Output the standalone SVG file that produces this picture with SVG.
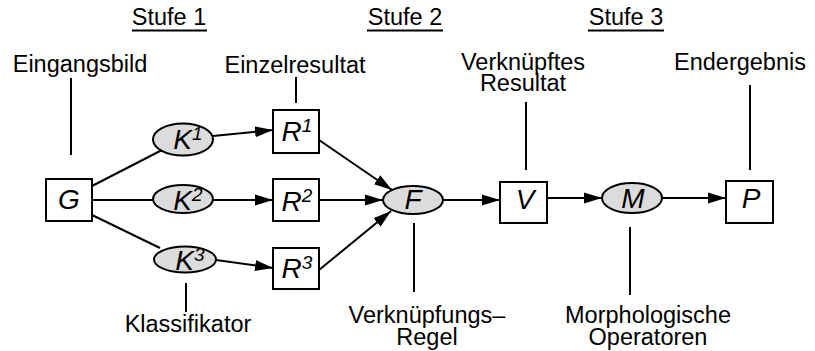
<svg xmlns="http://www.w3.org/2000/svg" width="815" height="351" viewBox="0 0 815 351">
<style>
text{font-family:"Liberation Sans",Arial,Helvetica,sans-serif;fill:#000}
.lbl{font-size:23.5px;text-anchor:middle}
.hd{font-size:23.5px;text-anchor:middle}
.nt{font-size:28px;font-style:italic;text-anchor:middle}
.sup{font-size:19px}
.box{fill:#fff;stroke:#000;stroke-width:2}
.ell{fill:#dcdcdc;stroke:#000;stroke-width:2}
.ln{stroke:#000;stroke-width:2;fill:none}
.ar{stroke:#000;stroke-width:2;fill:none;marker-end:url(#ah)}
</style>
<defs>
<marker id="ah" viewBox="0 0 18 12" refX="18" refY="6" markerWidth="18" markerHeight="12" markerUnits="userSpaceOnUse" orient="auto">
<path d="M0,0.5 L18,6 L0,11.5 z" fill="#000"/>
</marker>
</defs>
<rect width="815" height="351" fill="#fff"/>
<g id="headers">
<text class="hd" x="169" y="25">Stufe 1</text>
<line class="ln" x1="132" y1="30.5" x2="207" y2="30.5"/>
<text class="hd" x="405" y="25">Stufe 2</text>
<line class="ln" x1="367" y1="30.5" x2="443" y2="30.5"/>
<text class="hd" x="626" y="25">Stufe 3</text>
<line class="ln" x1="588" y1="30.5" x2="664" y2="30.5"/>
</g>
<g id="connectors">
<line class="ln" x1="92" y1="186" x2="162" y2="150"/>
<line class="ln" x1="92" y1="200" x2="153" y2="200"/>
<line class="ln" x1="92" y1="215" x2="160" y2="248"/>
<line class="ar" x1="213" y1="136" x2="273" y2="130"/>
<line class="ar" x1="213" y1="200" x2="273" y2="200"/>
<line class="ar" x1="216" y1="260" x2="273" y2="268"/>
<line class="ar" x1="319" y1="140" x2="392" y2="190"/>
<line class="ar" x1="319" y1="200" x2="383" y2="200"/>
<line class="ar" x1="319" y1="270" x2="391" y2="211"/>
<line class="ar" x1="443" y1="200" x2="500" y2="200"/>
<line class="ar" x1="547" y1="198" x2="602" y2="198"/>
<line class="ar" x1="663" y1="198" x2="726" y2="198"/>
<line class="ln" x1="71" y1="78" x2="71" y2="155"/>
<line class="ln" x1="296" y1="77" x2="296" y2="103"/>
<line class="ln" x1="526" y1="102" x2="526" y2="170"/>
<line class="ln" x1="750" y1="85" x2="750" y2="170"/>
<line class="ln" x1="186" y1="283" x2="186" y2="312"/>
<line class="ln" x1="414" y1="223" x2="414" y2="292"/>
<line class="ln" x1="630" y1="227" x2="630" y2="295"/>
</g>
<g id="G"><rect class="box" x="46" y="179" width="46" height="42"/><text class="nt" x="69" y="209">G</text></g>
<g id="K1"><ellipse class="ell" cx="183" cy="139.5" rx="30" ry="16"/><text class="nt" x="188" y="149">K<tspan class="sup" dy="-9">1</tspan></text></g>
<g id="K2"><ellipse class="ell" cx="183" cy="199" rx="30" ry="14"/><text class="nt" x="188" y="210">K<tspan class="sup" dy="-9">2</tspan></text></g>
<g id="K3"><ellipse class="ell" cx="185" cy="259.5" rx="31" ry="13"/><text class="nt" x="190" y="270">K<tspan class="sup" dy="-9">3</tspan></text></g>
<g id="R1"><rect class="box" x="273" y="110" width="46" height="43"/><text class="nt" x="297" y="141">R<tspan class="sup" dy="-9">1</tspan></text></g>
<g id="R2"><rect class="box" x="273" y="179" width="46" height="42"/><text class="nt" x="297" y="211">R<tspan class="sup" dy="-9">2</tspan></text></g>
<g id="R3"><rect class="box" x="273" y="248" width="46" height="41"/><text class="nt" x="297" y="278">R<tspan class="sup" dy="-9">3</tspan></text></g>
<g id="F"><ellipse class="ell" cx="413" cy="200" rx="30" ry="14"/><text class="nt" x="413" y="209">F</text></g>
<g id="V"><rect class="box" x="500" y="182" width="47" height="41"/><text class="nt" x="525" y="209">V</text></g>
<g id="M"><ellipse class="ell" cx="632" cy="198" rx="30" ry="15"/><text class="nt" x="633" y="208">M</text></g>
<g id="P"><rect class="box" x="726" y="181" width="47" height="42"/><text class="nt" x="751" y="208">P</text></g>
<g id="labels">
<text class="lbl" x="80" y="72">Eingangsbild</text>
<text class="lbl" x="295" y="73">Einzelresultat</text>
<text class="lbl"><tspan x="523" y="70">Verknüpftes</tspan><tspan x="523" y="91">Resultat</tspan></text>
<text class="lbl" x="740" y="70">Endergebnis</text>
<text class="lbl" x="188" y="332">Klassifikator</text>
<text class="lbl"><tspan x="427" y="323">Verknüpfungs–</tspan><tspan x="427" y="345">Regel</tspan></text>
<text class="lbl"><tspan x="648" y="323">Morphologische</tspan><tspan x="648" y="345">Operatoren</tspan></text>
</g>
</svg>
